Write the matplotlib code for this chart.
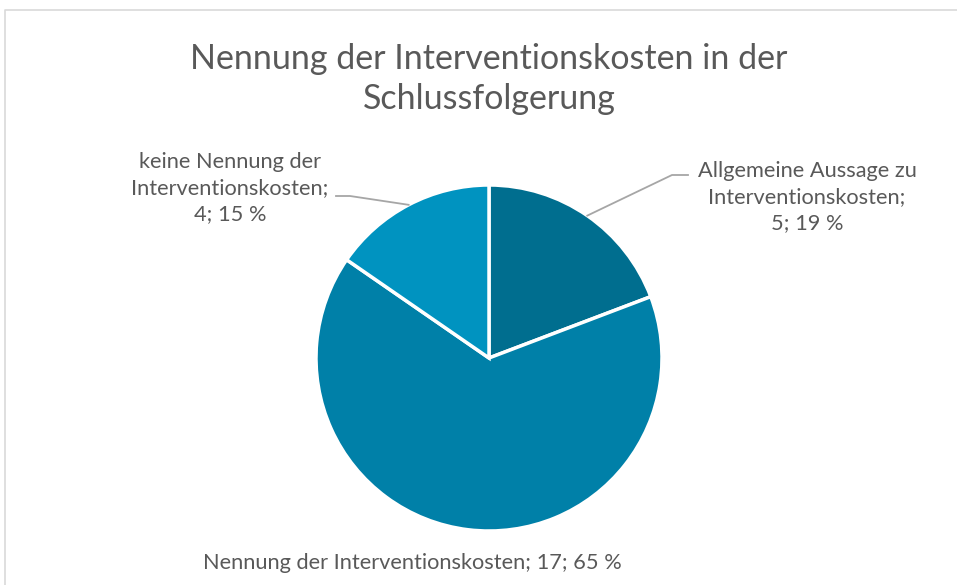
import numpy as np
import matplotlib.pyplot as plt

# Data
categories = ['Allgemeine Aussage zu\nInterventionskosten;', 'Nennung der Interventionskosten;',
              'keine Nennung der\nInterventionskosten;']
counts = [5, 17, 4]
percents = [19, 65, 15]
colors = ['#006E8F', '#0080A8', '#0093C0']

plt.rcParams['font.family'] = ['Lato', 'DejaVu Sans']
text_color = '#595959'

W, H = 957, 585
fig = plt.figure(figsize=(9.57, 5.85), dpi=100)
ax = fig.add_axes([0, 0, 1, 1])

def Y(y):
    # convert pixel row (from top) to data y
    return H - y

cx, cy, r = 489, Y(358), 173
wedges, _ = ax.pie(counts, colors=colors, startangle=90, counterclock=False,
                   center=(cx, cy), radius=r, frame=True,
                   wedgeprops=dict(edgecolor='white', linewidth=2.5))
ax.set_xlim(0, W)
ax.set_ylim(0, H)
ax.set_aspect('equal')
ax.axis('off')

# chart frame
ax.plot([5, 5, 960], [Y(590), Y(10), Y(10)], color='#D9D9D9', lw=1.2, clip_on=False)

ax.text(489, Y(79), 'Nennung der Interventionskosten in der\nSchlussfolgerung', ha='center', va='center',
        fontsize=24.5, color=text_color, linespacing=1.3)

def mid_point(w):
    ang = np.deg2rad((w.theta1 + w.theta2) / 2)
    return cx + r * np.cos(ang), cy + r * np.sin(ang)

# label 0: Allgemeine
px, py = mid_point(wedges[0])
ax.plot([px, 672, 688], [py, Y(175), Y(175)], color='#A6A6A6', lw=1.3)
ax.text(807, Y(197), f'{categories[0]}\n{counts[0]}; {percents[0]} %', ha='center', va='center',
        fontsize=15.7, color=text_color, linespacing=1.38)

# label 2: keine
px, py = mid_point(wedges[2])
ax.plot([px, 350, 336], [py, Y(196), Y(196)], color='#A6A6A6', lw=1.3)
ax.text(230, Y(188), f'{categories[2]}\n{counts[2]}; {percents[2]} %', ha='center', va='center',
        fontsize=15.7, color=text_color, linespacing=1.38)

# label 1: Nennung
ax.text(412, Y(563), f'{categories[1]} {counts[1]}; {percents[1]} %', ha='center', va='center',
        fontsize=15.7, color=text_color)

fig.savefig('out.png', dpi=100)
